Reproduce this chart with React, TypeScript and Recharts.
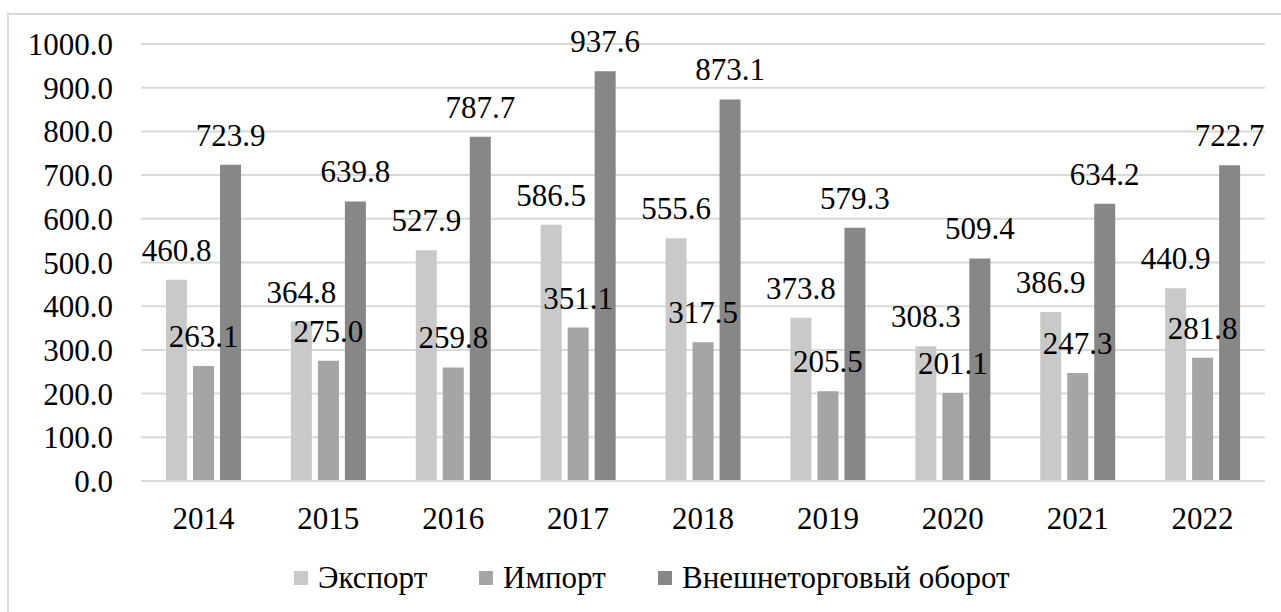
import React from "react";
import { BarChart, Bar, XAxis, YAxis, CartesianGrid, Legend, LabelList } from "recharts";

const years = ["2014", "2015", "2016", "2017", "2018", "2019", "2020", "2021", "2022"];
const exportValues = [460.8, 364.8, 527.9, 586.5, 555.6, 373.8, 308.3, 386.9, 440.9];
const importValues = [263.1, 275.0, 259.8, 351.1, 317.5, 205.5, 201.1, 247.3, 281.8];
const turnoverValues = [723.9, 639.8, 787.7, 937.6, 873.1, 579.3, 509.4, 634.2, 722.7];
const yTicks = [0, 100, 200, 300, 400, 500, 600, 700, 800, 900, 1000];

const seriesNames = ["Экспорт", "Импорт", "Внешнеторговый оборот"];
const seriesColors = ["#c9c9c9", "#a5a5a5", "#878787"];

const data = years.map((y, i) => ({
  year: y,
  exp: exportValues[i],
  imp: importValues[i],
  tot: turnoverValues[i],
}));

const FONT = '"Liberation Serif", Tinos, serif';
const fmt = (v: any) => Number(v).toFixed(1);
const textStyle = { fontSize: 31, fill: "#000", fontFamily: FONT };

const legendSquareX = [294, 479, 658];

const LegendContent = () => (
  <div style={{ position: "relative", height: 40, fontFamily: FONT, fontSize: 31, color: "#000", lineHeight: "40px" }}>
    {seriesNames.map((n, i) => (
      <div key={n} style={{ position: "absolute", left: legendSquareX[i], top: 0, height: 40, display: "flex", alignItems: "center", whiteSpace: "nowrap" }}>
        <div style={{ width: 14, height: 14, background: seriesColors[i], marginRight: 10 }} />
        <span>{n}</span>
      </div>
    ))}
  </div>
);

export default function App() {
  return (
    <div style={{ position: "fixed", left: 0, top: 0, width: 1281, height: 612, overflow: "hidden", background: "#fff", fontFamily: FONT }}>
      <div
        style={{
          position: "absolute",
          left: 7,
          top: 13,
          width: 1400,
          height: 700,
          border: "2px solid #d9d9d9",
          boxSizing: "border-box",
        }}
      />
      <div style={{ position: "absolute", left: 0, top: 0 }}>
        <BarChart
          width={1281}
          height={612}
          data={data}
          margin={{ top: 44, right: 16, left: 0, bottom: 14 }}
          barGap={6}
          barSize={21}
        >
          <CartesianGrid vertical={false} stroke="#d9d9d9" strokeWidth={2} />
          <XAxis
            dataKey="year"
            height={77}
            axisLine={{ stroke: "#d9d9d9", strokeWidth: 2 }}
            tickLine={false}
            tickSize={0}
            tickMargin={26}
            tick={textStyle}
            interval={0}
          />
          <YAxis
            width={141}
            domain={[0, 1000]}
            ticks={yTicks}
            tickFormatter={fmt}
            axisLine={false}
            tickLine={false}
            tickSize={0}
            tickMargin={28}
            tick={textStyle}
            interval={0}
          />
          <Legend verticalAlign="bottom" height={40} content={<LegendContent />} />
          <Bar dataKey="exp" name={seriesNames[0]} fill={seriesColors[0]} isAnimationActive={false}>
            <LabelList dataKey="exp" position="top" offset={19} formatter={fmt} fontFamily={FONT} fontSize={31} fill="#000" />
          </Bar>
          <Bar dataKey="imp" name={seriesNames[1]} fill={seriesColors[1]} isAnimationActive={false}>
            <LabelList dataKey="imp" position="top" offset={19} formatter={fmt} fontFamily={FONT} fontSize={31} fill="#000" />
          </Bar>
          <Bar dataKey="tot" name={seriesNames[2]} fill={seriesColors[2]} isAnimationActive={false}>
            <LabelList dataKey="tot" position="top" offset={19} formatter={fmt} fontFamily={FONT} fontSize={31} fill="#000" />
          </Bar>
        </BarChart>
      </div>
    </div>
  );
}
